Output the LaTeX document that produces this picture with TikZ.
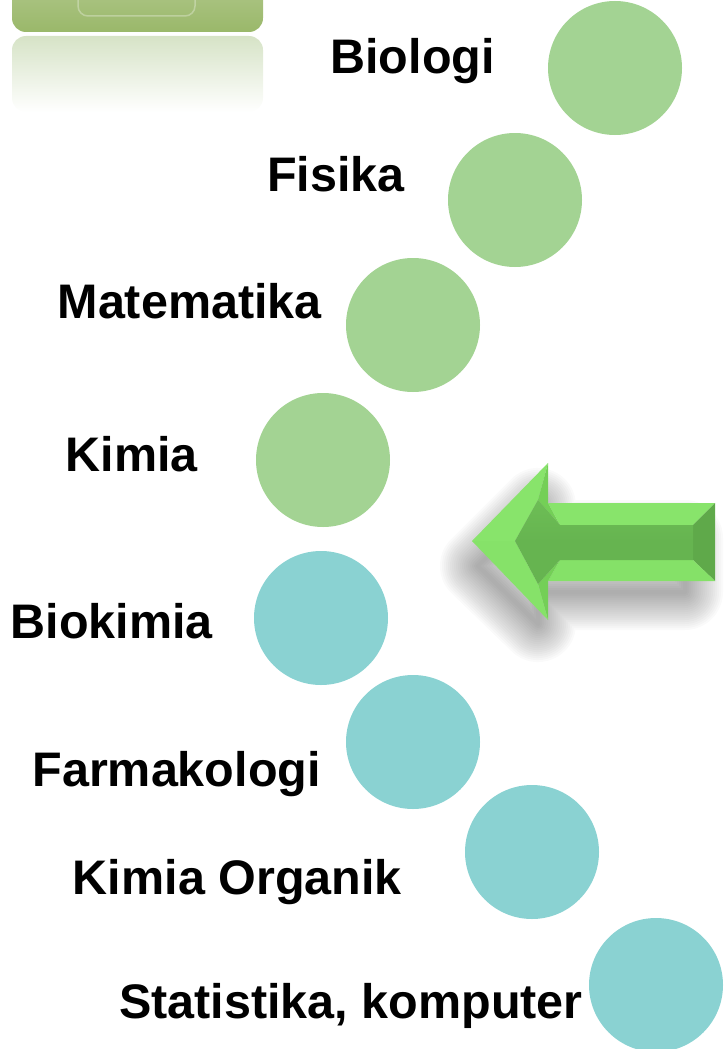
\documentclass[tikz,border=0pt]{standalone}
\usepackage{fontspec}
\setmainfont{Liberation Sans}
\definecolor{cgreen}{HTML}{A3D393}
\definecolor{cteal}{HTML}{8AD2D2}
\definecolor{olive}{HTML}{9AB86A}
\definecolor{oliveL}{HTML}{D6E3C6}
\definecolor{aLight}{HTML}{88E46B}
\definecolor{aMid}{HTML}{74CF57}
\definecolor{aDark}{HTML}{5FA94A}
\definecolor{aCore}{HTML}{66B450}
\tikzset{
  ball/.style={circle, minimum size=134pt, inner sep=0pt},
  gball/.style={ball, fill=cgreen},
  tball/.style={ball, fill=cteal},
  lbl/.style={anchor=base east, inner sep=0pt, font=\fontsize{48.5}{56}\selectfont\bfseries}
}
\begin{document}
\begin{tikzpicture}[x={(1pt,0)}, y={(0,-1pt)}]
\useasboundingbox (0,0) rectangle (723,1049);
% top-left decoration
\shade[top color=olive!75!white, bottom color=olive, rounded corners=14pt] (12,-30) rectangle (263,32);
\draw[white, opacity=0.3, line width=1.5pt, rounded corners=10pt] (78,-12) rectangle (195,16);
\shade[top color=oliveL, bottom color=white, rounded corners=14pt] (12,36) rectangle (263,112);
% circles
\node[gball] (c1) at (615,68) {};
\node[gball] (c2) at (515,200) {};
\node[gball] (c3) at (413,325) {};
\node[gball] (c4) at (323,460) {};
\node[tball] (c5) at (321,618) {};
\node[tball] (c6) at (413,742) {};
\node[tball] (c7) at (532,852) {};
\node[tball] (c8) at (656,985) {};
% labels
\node[lbl] (t1) at (495,74) {Biologi};
\node[lbl] (t2) at (405,191) {Fisika};
\node[lbl] (t3) at (322,318) {Matematika};
\node[lbl] (t4) at (198,471) {Kimia};
\node[lbl] (t5) at (213,638) {Biokimia};
\node[lbl] (t6) at (321,786) {Farmakologi};
\node[lbl] (t7) at (402,894) {Kimia Organik};
\node[lbl] (t8) at (583,1018) {Statistika, komputer};
% arrow shadow (soft)
\foreach \w in {76,72,...,4}{
  \draw[black, opacity=0.018, line width=\w pt, line join=round]
    (478,566) -- (538,506) -- (538,538) -- (685,538) -- (685,592) -- (538,592) -- (538,624) -- cycle;
}
% arrow
\coordinate (T) at (472,541);
\coordinate (HT) at (548,463);
\coordinate (J1) at (548,503);
\coordinate (R1) at (715,503);
\coordinate (R2) at (715,581);
\coordinate (J2) at (548,581);
\coordinate (HB) at (548,620);
\coordinate (Ti) at (515,541);
\coordinate (HTi) at (538,500);
\coordinate (J1i) at (560,525);
\coordinate (R1i) at (693,525);
\coordinate (R2i) at (693,560);
\coordinate (J2i) at (560,560);
\coordinate (HBi) at (538,584);
\fill[aLight] (T) -- (HT) -- (HTi) -- (Ti) -- cycle;
\fill[aMid] (HT) -- (J1) -- (J1i) -- (HTi) -- cycle;
\fill[aLight] (J1) -- (R1) -- (R1i) -- (J1i) -- cycle;
\fill[aDark] (R1) -- (R2) -- (R2i) -- (R1i) -- cycle;
\fill[aLight!85!aMid] (R2) -- (J2) -- (J2i) -- (R2i) -- cycle;
\fill[aMid] (J2) -- (HB) -- (HBi) -- (J2i) -- cycle;
\fill[aLight!90!aMid] (HB) -- (T) -- (Ti) -- (HBi) -- cycle;
\shade[top color=aCore!80!aLight, bottom color=aCore, middle color=aCore] (Ti) -- (HTi) -- (J1i) -- (R1i) -- (R2i) -- (J2i) -- (HBi) -- cycle;
\end{tikzpicture}
\end{document}
